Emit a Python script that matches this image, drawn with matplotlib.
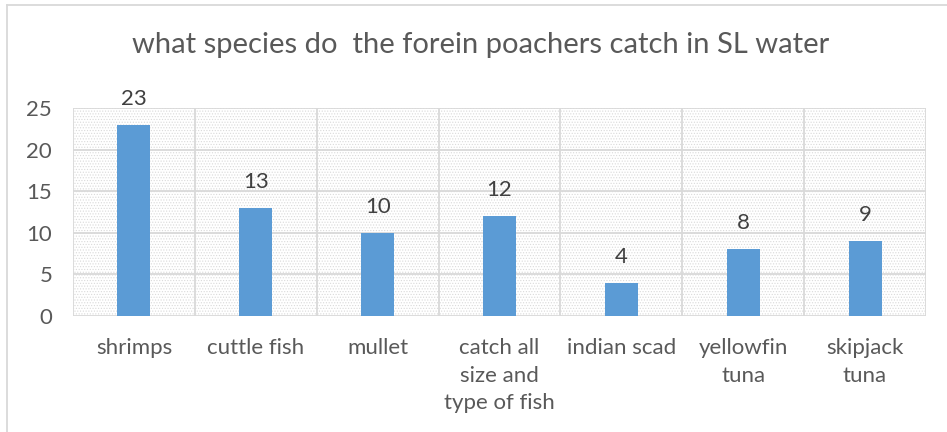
import matplotlib.pyplot as plt
import numpy as np

plt.rcParams['font.family'] = ['Lato', 'DejaVu Sans']
plt.rcParams['hatch.linewidth'] = 0.5

species = ['shrimps', 'cuttle fish', 'mullet', 'catch all\nsize and\ntype of fish',
           'indian scad', 'yellowfin\ntuna', 'skipjack\ntuna']
counts = [23, 13, 10, 12, 4, 8, 9]
yticks = [0, 5, 10, 15, 20, 25]

grid_col = '#d9d9d9'
bar_col = '#5b9bd5'

fig = plt.figure(figsize=(9.47, 4.32), dpi=100)
ax = fig.add_axes([0.0771, 0.2685, 0.9007, 0.4815])

x = np.arange(len(species))

# patterned plot area
ax.add_patch(plt.Rectangle((-0.5, 0), len(species), 25, facecolor='white',
                           hatch='......', edgecolor='#dadada', linewidth=0, zorder=0))

bars = ax.bar(x, counts, width=0.27, color=bar_col, zorder=3)
for xi, v in zip(x, counts):
    ax.annotate(str(v), (xi, v), xytext=(0, 11.5), textcoords='offset points',
                ha='center', va='bottom', fontsize=16, color='#404040')

ax.set_xlim(-0.5, len(species) - 0.5)
ax.set_ylim(0, 25)
ax.set_yticks(yticks)
ax.set_xticks(x)
ax.set_xticklabels(species, linespacing=1.47)

# category separators and value gridlines
for b in np.arange(-0.5, len(species), 1.0):
    ax.axvline(b, color=grid_col, lw=1.3, zorder=1)
for t in yticks:
    ax.axhline(t, color=grid_col, lw=1.3, zorder=1)

for s in ax.spines.values():
    s.set_visible(False)
ax.tick_params(axis='both', length=0, labelsize=16, labelcolor='#595959')
ax.tick_params(axis='y', pad=15)
ax.tick_params(axis='x', pad=16)
for lbl in ax.get_xticklabels():
    lbl.set_verticalalignment('top')

fig.text(0.507, 0.895, 'what species do  the forein poachers catch in SL water',
         ha='center', va='center', fontsize=21, color='#595959')

# chart frame
fig.add_artist(plt.Line2D([7 / 947, 7 / 947], [0, 1 - 5 / 432], color=grid_col, lw=1.3))
fig.add_artist(plt.Line2D([7 / 947, 1], [1 - 5 / 432, 1 - 5 / 432], color=grid_col, lw=1.3))

fig.savefig('out.png', dpi=100)
